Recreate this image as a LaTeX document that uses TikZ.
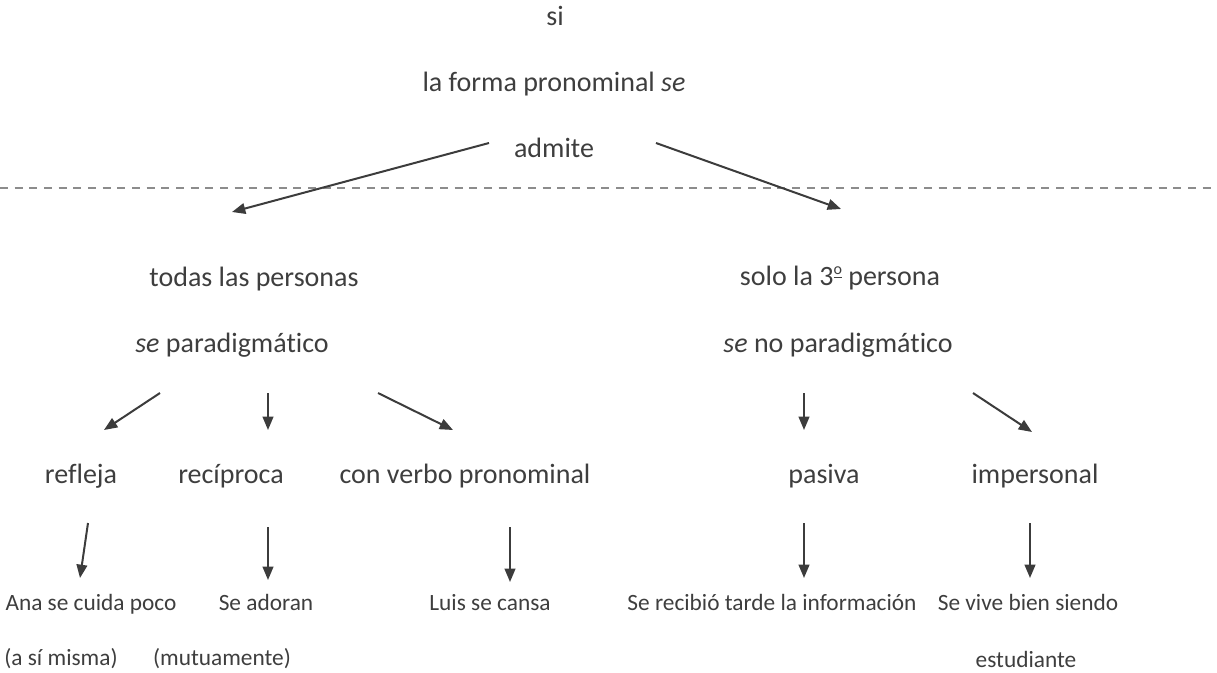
\documentclass[tikz,border=0pt]{standalone}
\usepackage{fontspec}
\setmainfont{Carlito}[Ligatures=NoCommon]
\usepackage{xcolor}
\usepackage{tikz}
\usetikzlibrary{arrows.meta}
\definecolor{txtgray}{RGB}{62,62,62}
\definecolor{arrgray}{RGB}{60,60,60}
\definecolor{dashgray}{RGB}{140,140,140}
\newcommand{\ordo}{\raisebox{0.36em}{\fontsize{12}{12}\selectfont\underline{o}}}
\tikzset{
  big/.style={anchor=base, inner sep=0pt, text=txtgray, font=\fontsize{21}{25}\selectfont},
  small/.style={anchor=base, inner sep=0pt, text=txtgray, font=\fontsize{17.5}{21}\selectfont},
  arr/.style={draw=arrgray, line width=1.5pt, -{Triangle[length=10pt,width=8pt]}}
}

\begin{document}
\begin{tikzpicture}[x=0.75pt,y=-0.75pt]
\useasboundingbox (0,0) rectangle (1217,672);
\draw[dashgray, line width=1pt, dash pattern=on 6pt off 5pt] (0,188) -- (1217,188);
\node[big] (si) at (555,25) {si};
\node[big] (forma) at (554,91) {la forma pronominal \textit{se}};
\node[big] (admite) at (554,157) {admite};
\node[big] (todas) at (254,286) {todas las personas};
\node[big] (paradig) at (232,352) {\textit{se} paradigmático};
\node[big] (solo) at (840,285) {solo la 3\ordo\ persona};
\node[big] (nopar) at (838,352) {\textit{se} no paradigmático};
\node[big] (refleja) at (81,483) {refleja};
\node[big] (reciproca) at (231,483) {recíproca};
\node[big] (converbo) at (465,483) {con verbo pronominal};
\node[big] (pasiva) at (824,483) {pasiva};
\node[big] (impers) at (1035,483) {impersonal};
\node[small] (ana) at (91,610) {Ana se cuida poco};
\node[small] (adoran) at (266,610) {Se adoran};
\node[small] (luis) at (490,610) {Luis se cansa};
\node[small] (recibio) at (772,610) {Se recibió tarde la información};
\node[small] (vive) at (1028,610) {Se vive bien siendo};
\node[small] (asimisma) at (61,665) {(a sí misma)};
\node[small] (mutua) at (222,665) {(mutuamente)};
\node[small] (estud) at (1026,667) {estudiante};
\draw[arr] ([shift={(-65,-14)}]admite.base) -- ([shift={(-22,-74)}]todas.base);
\draw[arr] ([shift={(102,-14)}]admite.base) -- ([shift={(1,-76)}]solo.base);
\draw[arr] ([shift={(-72,41)}]paradig.base) -- ([shift={(23,-53)}]refleja.base);
\draw[arr] ([shift={(36,41)}]paradig.base) -- ([shift={(37,-53)}]reciproca.base);
\draw[arr] ([shift={(146,41)}]paradig.base) -- ([shift={(-12,-53)}]converbo.base);
\draw[arr] ([shift={(-34,41)}]nopar.base) -- ([shift={(-20,-53)}]pasiva.base);
\draw[arr] ([shift={(135,41)}]nopar.base) -- ([shift={(-3,-51)}]impers.base);
\draw[arr] ([shift={(7,40)}]refleja.base) -- ([shift={(-11,-32)}]ana.base);
\draw[arr] ([shift={(37,44)}]reciproca.base) -- ([shift={(2,-30)}]adoran.base);
\draw[arr] ([shift={(45,44)}]converbo.base) -- ([shift={(20,-28)}]luis.base);
\draw[arr] ([shift={(-20,40)}]pasiva.base) -- ([shift={(32,-32)}]recibio.base);
\draw[arr] ([shift={(-5,40)}]impers.base) -- ([shift={(2,-32)}]vive.base);
\end{tikzpicture}
\end{document}
